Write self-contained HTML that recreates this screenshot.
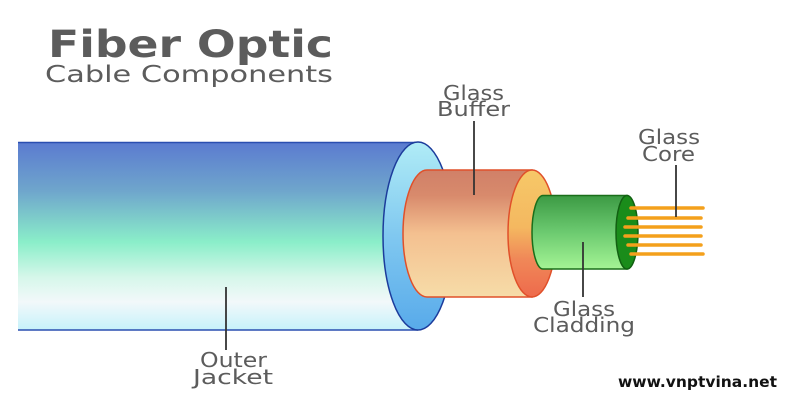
<!DOCTYPE html>
<html><head><meta charset="utf-8"><style>
html,body{margin:0;padding:0;background:#fff;}
svg{display:block;}
</style></head><body>
<svg width="800" height="400" viewBox="0 0 800 400" xmlns="http://www.w3.org/2000/svg">
<defs>
<linearGradient id="jk" x1="0" y1="0" x2="0" y2="1">
<stop offset="0" stop-color="#5b7bd0"/>
<stop offset="0.26" stop-color="#6fa6cc"/>
<stop offset="0.53" stop-color="#8aeec9"/>
<stop offset="0.72" stop-color="#d6f7ea"/>
<stop offset="0.85" stop-color="#f2f8fa"/>
<stop offset="1" stop-color="#c6f2fa"/>
</linearGradient>
<linearGradient id="jf" x1="0" y1="0" x2="0" y2="1">
<stop offset="0" stop-color="#b0ecf6"/>
<stop offset="0.5" stop-color="#80c8f0"/>
<stop offset="1" stop-color="#58aaea"/>
</linearGradient>
<linearGradient id="bb" x1="0" y1="0" x2="0" y2="1">
<stop offset="0" stop-color="#d08068"/>
<stop offset="0.2" stop-color="#d88a6c"/>
<stop offset="0.5" stop-color="#f4c090"/>
<stop offset="1" stop-color="#f6dca8"/>
</linearGradient>
<linearGradient id="bf" x1="0" y1="0" x2="0" y2="1">
<stop offset="0" stop-color="#f6c868"/>
<stop offset="0.45" stop-color="#f4b860"/>
<stop offset="0.7" stop-color="#f08858"/>
<stop offset="1" stop-color="#ee6a4c"/>
</linearGradient>
<linearGradient id="gb" x1="0" y1="0" x2="0" y2="1">
<stop offset="0" stop-color="#3c9a44"/>
<stop offset="0.5" stop-color="#6cca70"/>
<stop offset="1" stop-color="#a4f494"/>
</linearGradient>
</defs>

<text x="48" y="57" font-family="DejaVu Sans, Liberation Sans, sans-serif" font-weight="bold" font-size="37" fill="#5c5c5c" textLength="285" lengthAdjust="spacingAndGlyphs">Fiber Optic</text>
<text x="45" y="82" font-family="DejaVu Sans, Liberation Sans, sans-serif" font-size="23" fill="#5c5c5c" textLength="288" lengthAdjust="spacingAndGlyphs">Cable Components</text>

<!-- outer jacket -->
<rect x="18" y="142.5" width="400" height="187.5" fill="url(#jk)"/>
<line x1="18" y1="142.5" x2="418" y2="142.5" stroke="#2a4eb0" stroke-width="1.5"/>
<line x1="18" y1="330" x2="418" y2="330" stroke="#2a4eb0" stroke-width="1.5"/>
<ellipse cx="418" cy="236" rx="35" ry="94" fill="url(#jf)" stroke="#1c3c9c" stroke-width="1.5"/>

<!-- buffer -->
<path d="M427 170 L532 170 L532 297 L427 297 A24 63.5 0 0 1 427 170 Z" fill="url(#bb)" stroke="#e0502a" stroke-width="1.5"/>
<ellipse cx="532" cy="233.5" rx="24" ry="63.5" fill="url(#bf)" stroke="#e0502a" stroke-width="1.5"/>

<!-- cladding -->
<path d="M543 195.5 L627 195.5 L627 269 L543 269 A11 36.75 0 0 1 543 195.5 Z" fill="url(#gb)" stroke="#1a6e1a" stroke-width="1.5"/>
<ellipse cx="627" cy="232.25" rx="11" ry="36.75" fill="#1a8c1a" stroke="#126012" stroke-width="1.5"/>

<!-- core fibers -->
<g stroke="#f4a01c" stroke-width="3.5" stroke-linecap="round">
<line x1="631" y1="208" x2="703" y2="208"/>
<line x1="628" y1="218" x2="701" y2="218"/>
<line x1="625" y1="227" x2="701" y2="227"/>
<line x1="625" y1="236" x2="701" y2="236"/>
<line x1="628" y1="245" x2="701" y2="245"/>
<line x1="631" y1="254" x2="703" y2="254"/>
</g>

<!-- leader lines -->
<g stroke="#333" stroke-width="1.8">
<line x1="474" y1="121" x2="474" y2="195"/>
<line x1="676" y1="165" x2="676" y2="217"/>
<line x1="583" y1="242" x2="583" y2="297"/>
<line x1="226" y1="287" x2="226" y2="350"/>
</g>

<g font-family="DejaVu Sans, Liberation Sans, sans-serif" font-size="20" fill="#5c5c5c">
<text x="443" y="100" textLength="61" lengthAdjust="spacingAndGlyphs">Glass</text>
<text x="437" y="116" textLength="73" lengthAdjust="spacingAndGlyphs">Buffer</text>
<text x="638" y="144" textLength="62" lengthAdjust="spacingAndGlyphs">Glass</text>
<text x="642" y="161" textLength="53" lengthAdjust="spacingAndGlyphs">Core</text>
<text x="553" y="316" textLength="62" lengthAdjust="spacingAndGlyphs">Glass</text>
<text x="533" y="332" textLength="102" lengthAdjust="spacingAndGlyphs">Cladding</text>
<text x="200" y="367" textLength="67" lengthAdjust="spacingAndGlyphs">Outer</text>
<text x="193" y="384" textLength="80" lengthAdjust="spacingAndGlyphs">Jacket</text>
</g>

<text x="618" y="387" font-family="DejaVu Sans, Liberation Sans, sans-serif" font-weight="bold" font-size="15" fill="#111" textLength="159" lengthAdjust="spacingAndGlyphs">www.vnptvina.net</text>
</svg>
</body></html>
